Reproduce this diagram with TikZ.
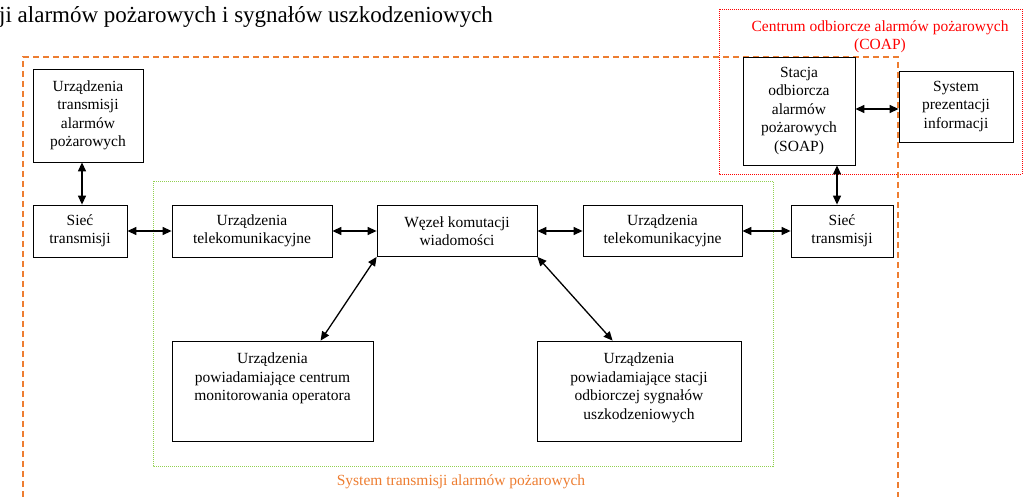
\documentclass[tikz,border=0pt]{standalone}
\usepackage{fontspec}
\setmainfont{Liberation Serif}
\usetikzlibrary{arrows.meta}
\definecolor{orangeC}{RGB}{237,125,49}
\definecolor{greenC}{RGB}{146,208,80}
\definecolor{redC}{RGB}{255,0,0}
\begin{document}
\begin{tikzpicture}[x=1pt,y=-1pt,
  bx/.style={draw, line width=0.8pt, align=center, inner sep=0pt, font=\fontsize{15.5}{18.5}\selectfont},
  txt/.style={align=center, inner sep=0pt, font=\fontsize{15.5}{18.5}\selectfont},
  arr/.style={{Triangle[length=9pt,width=8pt]}-{Triangle[length=9pt,width=8pt]}, line width=1.3pt},
  orangebox/.style={draw=orangeC, line width=1.3pt, dash pattern=on 6pt off 4pt},
  greenbox/.style={draw=greenC, line width=0.9pt, dash pattern=on 1pt off 1pt},
  redbox/.style={draw=redC, line width=0.9pt, dash pattern=on 1pt off 1pt}]
\useasboundingbox (0,0) rectangle (1024,497);

% title
\node[anchor=base west, inner sep=0pt, font=\fontsize{23}{27}\selectfont] (title) at (-1,23) {ji alarmów pożarowych i sygnałów uszkodzeniowych};

% groups
\draw[greenbox] (153,181) rectangle (773,466);
\draw[redbox] (719,9) rectangle (1022,174);
\draw[orangebox] (23,497) -- (23,57) -- (898,57) -- (898,497);

\node[txt, text=redC] (coap) at (880,37) {Centrum odbiorcze alarmów pożarowych\\(COAP)};
\node[txt, text=orangeC] (stap) at (461,482) {System transmisji alarmów pożarowych};

% boxes
\node[bx, fill=white, minimum width=110pt, minimum height=93pt] (utr) at (88,115.5) {Urządzenia\\transmisji\\alarmów\\pożarowych};
\node[bx, fill=white, minimum width=94pt, minimum height=52pt] (sl) at (80,231) {Sieć\\transmisji};
\node[bx, fill=white, minimum width=160pt, minimum height=52pt] (tl) at (252,231) {Urządzenia\\telekomunikacyjne};
\node[bx, fill=white, minimum width=160pt, minimum height=51pt] (wz) at (457,231) {Węzeł komutacji\\wiadomości};
\node[bx, fill=white, minimum width=159pt, minimum height=51pt] (tr) at (662.5,231) {Urządzenia\\telekomunikacyjne};
\node[bx, fill=white, minimum width=102pt, minimum height=52pt] (sr) at (842,231) {Sieć\\transmisji};
\node[bx, fill=white, minimum width=112pt, minimum height=108pt] (soap) at (799,111) {Stacja\\odbiorcza\\alarmów\\pożarowych\\(SOAP)};
\node[bx, fill=white, minimum width=114pt, minimum height=71pt] (sys) at (956,106.5) {System\\prezentacji\\informacji};
\node[bx, minimum width=201pt, minimum height=100pt] (bl) at (272.5,391) {};
\node[bx, minimum width=204pt, minimum height=100pt] (br) at (639,391) {};
\node[txt, anchor=north] (blt) at ([yshift=-12pt]bl.north) {Urządzenia\\powiadamiające centrum\\monitorowania operatora};
\node[txt, anchor=north] (brt) at ([yshift=-12pt]br.north) {Urządzenia\\powiadamiające stacji\\odbiorczej sygnałów\\uszkodzeniowych};

% helper coordinates
\coordinate (ax1) at (82,0);
\coordinate (ax2) at (837,0);
\coordinate (ay) at (0,109);

% connectors
\draw[arr] (utr.south -| ax1) -- (sl.north -| ax1);
\draw[arr] (sl.east) -- (tl.west);
\draw[arr] (tl.east) -- (wz.west);
\draw[arr] (wz.east) -- (tr.west);
\draw[arr] (tr.east) -- (sr.west);
\draw[arr] (soap.south -| ax2) -- (sr.north -| ax2);
\draw[arr] (soap.east |- ay) -- (sys.west |- ay);
\draw[arr] (wz.south west) -- ([xshift=149pt]bl.north west);
\draw[arr] (wz.south east) -- ([xshift=76pt]br.north west);
\end{tikzpicture}
\end{document}
